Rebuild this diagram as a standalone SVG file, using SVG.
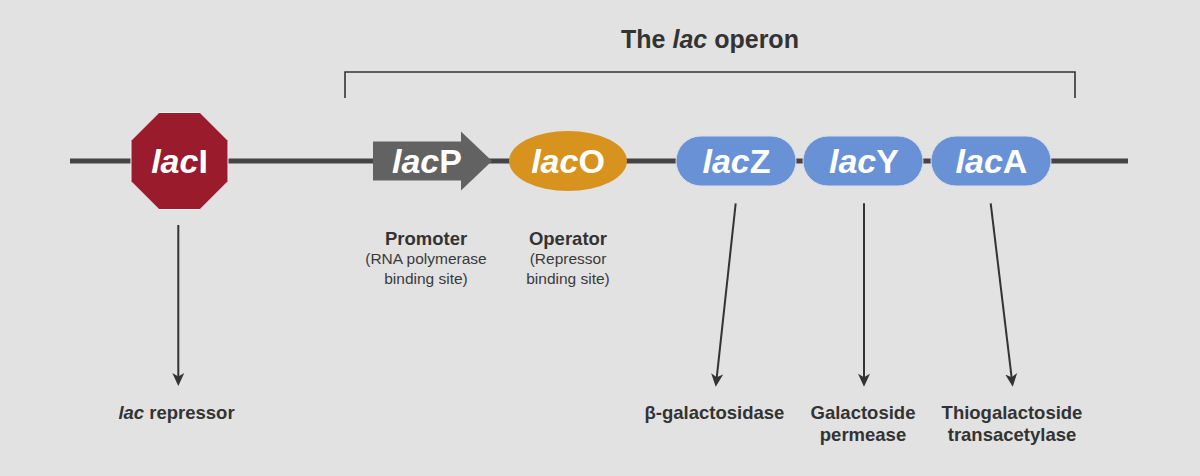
<svg xmlns="http://www.w3.org/2000/svg" width="1200" height="476" viewBox="0 0 1200 476">
<style>
text{font-family:"Liberation Sans",Arial,sans-serif;fill:#333333}
.title{font-size:25px;font-weight:bold}
.node{font-size:34px;font-weight:bold;fill:#ffffff}
.it{font-style:italic}
.lbl{font-size:18.5px;font-weight:bold}
.sub{font-size:15.5px;fill:#3a3a3a}
.conn{stroke:#333333;stroke-width:2;fill:none}
</style>
<defs>
<marker id="ah" viewBox="0 0 13 13" refX="5" refY="6.5" markerWidth="13" markerHeight="13" markerUnits="userSpaceOnUse" orient="auto">
<path d="M0,0.5 L13,6.5 L0,12.5 L3.5,6.5 Z" fill="#333333"/>
</marker>
</defs>
<rect width="1200" height="476" fill="#e2e2e2"/>
<g id="title">
<text class="title" x="710" y="48" text-anchor="middle">The <tspan class="it">lac</tspan> operon</text>
<path d="M345,98 V72 H1075 V98" stroke="#333333" stroke-width="1.6" fill="none"/>
</g>
<g id="dna">
<line x1="70" y1="161" x2="1128" y2="161" stroke="#444444" stroke-width="5"/>
</g>
<g id="connectors">
<line class="conn" x1="178.3" y1="225" x2="178.3" y2="378" marker-end="url(#ah)"/>
<line class="conn" x1="735.7" y1="203.3" x2="716.6" y2="378.8" marker-end="url(#ah)"/>
<line class="conn" x1="864" y1="203.3" x2="864" y2="378.7" marker-end="url(#ah)"/>
<line class="conn" x1="990.7" y1="203.3" x2="1011.8" y2="378.8" marker-end="url(#ah)"/>
</g>
<g id="lacI">
<polygon points="159,112.5 200,112.5 228,140.5 228,181.5 200,209.5 159,209.5 131,181.5 131,140.5" fill="#9a1b2b" stroke="#f2f2f2" stroke-width="1"/>
<text class="node" x="179.5" y="172.5" text-anchor="middle"><tspan class="it">lac</tspan>I</text>
</g>
<g id="lacP">
<polygon points="373,141.5 461,141.5 461,131.5 492,161 461,190.5 461,180.5 373,180.5" fill="#626262"/>
<text class="node" x="427" y="173" text-anchor="middle"><tspan class="it">lac</tspan>P</text>
</g>
<g id="lacO">
<ellipse cx="568" cy="161" rx="59" ry="30" fill="#d8931f"/>
<text class="node" x="568" y="172.5" text-anchor="middle"><tspan class="it">lac</tspan>O</text>
</g>
<g id="lacZ">
<rect x="676" y="136" width="120" height="50" rx="25" fill="#6892d5" stroke="#d8dde6" stroke-width="1"/>
<text class="node" x="736.5" y="172.5" text-anchor="middle"><tspan class="it">lac</tspan>Z</text>
</g>
<g id="lacY">
<rect x="803" y="136" width="120" height="50" rx="25" fill="#6892d5" stroke="#d8dde6" stroke-width="1"/>
<text class="node" x="864" y="172.5" text-anchor="middle"><tspan class="it">lac</tspan>Y</text>
</g>
<g id="lacA">
<rect x="931" y="136" width="120" height="50" rx="25" fill="#6892d5" stroke="#d8dde6" stroke-width="1"/>
<text class="node" x="991.5" y="172.5" text-anchor="middle"><tspan class="it">lac</tspan>A</text>
</g>
<g id="promoter-label">
<text class="lbl" x="426" y="245" text-anchor="middle">Promoter</text>
<text class="sub" x="426" y="264" text-anchor="middle">(RNA polymerase</text>
<text class="sub" x="426" y="283.5" text-anchor="middle">binding site)</text>
</g>
<g id="operator-label">
<text class="lbl" x="568" y="245" text-anchor="middle">Operator</text>
<text class="sub" x="568" y="264" text-anchor="middle">(Repressor</text>
<text class="sub" x="568" y="283.5" text-anchor="middle">binding site)</text>
</g>
<g id="repressor">
<text class="lbl" x="176.5" y="418.5" text-anchor="middle"><tspan class="it">lac</tspan> repressor</text>
</g>
<g id="galactosidase">
<text class="lbl" x="714.5" y="419" text-anchor="middle">β-galactosidase</text>
</g>
<g id="permease">
<text class="lbl" x="863" y="419" text-anchor="middle">Galactoside</text>
<text class="lbl" x="863" y="441" text-anchor="middle">permease</text>
</g>
<g id="transacetylase">
<text class="lbl" x="1012" y="419" text-anchor="middle">Thiogalactoside</text>
<text class="lbl" x="1012" y="441" text-anchor="middle">transacetylase</text>
</g>
</svg>
